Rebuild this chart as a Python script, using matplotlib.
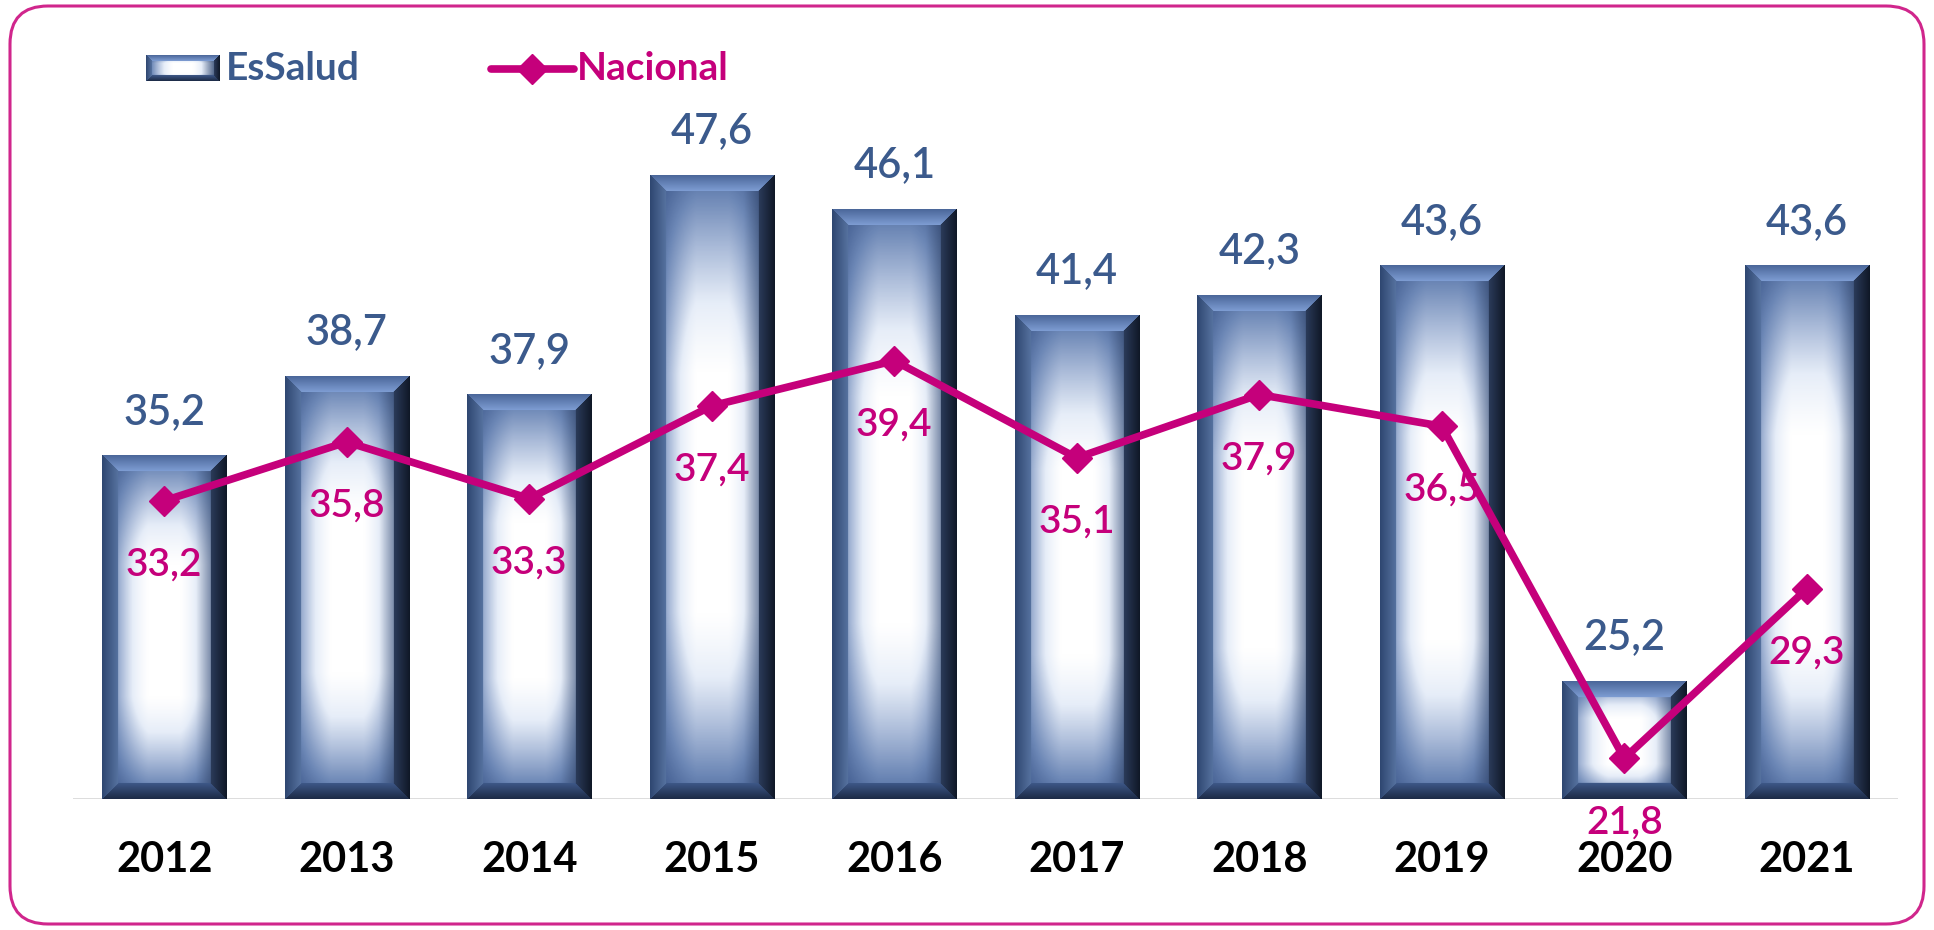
import numpy as np
import matplotlib.pyplot as plt
from matplotlib.colors import LinearSegmentedColormap, to_rgb
from matplotlib.patches import FancyBboxPatch

years = ['2012', '2013', '2014', '2015', '2016', '2017', '2018', '2019', '2020', '2021']
essalud = [35.2, 38.7, 37.9, 47.6, 46.1, 41.4, 42.3, 43.6, 25.2, 43.6]
nacional = [33.2, 35.8, 33.3, 37.4, 39.4, 35.1, 37.9, 36.5, 21.8, 29.3]

BLUE_TXT = '#3B5A8C'
PINK = '#C5007B'
W, H = 1934, 930

plt.rcParams['font.family'] = ['Lato', 'DejaVu Sans']

fill_cmap = LinearSegmentedColormap.from_list('fill', [
    (0.0, '#FFFFFF'), (0.25, '#E6EDF8'), (0.5, '#A9BAD8'),
    (0.75, '#6B86B5'), (0.9, '#4B6698'), (1.0, '#2C416C')])

# bevel colours (outer edge, inner edge): left, right, top, bottom
BEVEL = [('#2E4670', '#56729F'), ('#0F1726', '#2B3B5A'),
         ('#4A6699', '#7E9DD3'), ('#1C2A45', '#3E5888')]


def fmt(v):
    return f'{v:.1f}'.replace('.', ',')


def bevel_image(w_px, h_px, bevel=16):
    nx, ny = max(int(round(w_px)), 2), max(int(round(h_px)), 2)
    X, Y = np.meshgrid(np.arange(nx) + 0.5, np.arange(ny) + 0.5)
    u = X / nx
    v = 1 - Y / ny
    th = np.clip((np.abs(u - 0.5) * 2 - 0.25) / 0.75, 0, 1) ** 1.3
    vb = np.clip((0.3 - v) / 0.3, 0, 1) ** 1.2 * 0.88
    vt = np.clip((v - 0.68) / 0.32, 0, 1) ** 1.2 * 0.85
    tv = np.maximum(vb, vt)
    t = 1 - (1 - th) * (1 - tv)
    img = fill_cmap(t)[..., :3]
    # darker on the right side
    dark = 1 - 0.35 * np.clip((u - 0.75) / 0.25, 0, 1)
    img = img * dark[..., None]
    # bevel edges
    dist = np.stack([X, nx - X, Y, ny - Y])
    side = np.argmin(dist, axis=0)
    dmin = np.min(dist, axis=0)
    mask = dmin < bevel
    frac = np.clip(dmin / bevel, 0, 1)
    for k, (c_out, c_in) in enumerate(BEVEL):
        m = mask & (side == k)
        co, ci = np.array(to_rgb(c_out)), np.array(to_rgb(c_in))
        img[m] = co + (ci - co) * frac[m][:, None]
    return img


fig = plt.figure(figsize=(W / 100, H / 100), dpi=100)

# background canvas in pixel units for the frame and the legend
bg = fig.add_axes([0, 0, 1, 1], zorder=-1)
bg.axis('off')
bg.add_patch(FancyBboxPatch((10, 6), W - 20, H - 12,
                            boxstyle='round,pad=0,rounding_size=38',
                            fill=False, edgecolor='#D0268C', linewidth=2.2))

ax = fig.add_axes([73 / W, 131 / H, (1898 - 73) / W, 723 / H])
ax.set_facecolor('none')
x = np.arange(len(years))
bars = ax.bar(x, essalud, width=0.68, color='none', zorder=2)
ax.set_xlim(-0.5, len(years) - 0.5)
ax.set_ylim(20, 52)

for b, val in zip(bars, essalud):
    x0, x1 = b.get_x(), b.get_x() + b.get_width()
    p0 = ax.transData.transform((x0, 20))
    p1 = ax.transData.transform((x1, val))
    img = bevel_image(p1[0] - p0[0], p1[1] - p0[1])
    ax.imshow(img, extent=[x0, x1, 20, val], aspect='auto', zorder=2,
              interpolation='bilinear')
    ax.annotate(fmt(val), (b.get_x() + b.get_width() / 2, val),
                xytext=(0, 23), textcoords='offset points', ha='center',
                va='baseline', fontsize=30, fontweight='semibold', color=BLUE_TXT)

ax.set_xlim(-0.5, len(years) - 0.5)
ax.set_ylim(20, 52)

ax.plot(x, nacional, color=PINK, linewidth=5.5, marker='D', markersize=15,
        zorder=4, solid_joinstyle='round')
for xi, val in zip(x, nacional):
    ax.annotate(fmt(val), (xi, val), xytext=(0, -46), textcoords='offset points',
                ha='center', va='center', fontsize=28, fontweight='semibold',
                color=PINK, zorder=5)

ax.axhline(20, color='#D9D9D9', linewidth=2, zorder=1)
for s in ax.spines.values():
    s.set_visible(False)
ax.set_yticks([])
ax.set_xticks(x)
ax.set_xticklabels(years, fontsize=30, fontweight='bold', color='black')
ax.tick_params(axis='x', length=0, pad=30)

# legend
bg.imshow(bevel_image(74, 26, bevel=6), extent=[146, 220, 81, 55], aspect='auto',
          interpolation='bilinear')
bg.text(226, 69, 'EsSalud', fontsize=28, fontweight='bold', color=BLUE_TXT,
        va='center', ha='left')
bg.plot([491, 574], [69, 69], color=PINK, linewidth=5.5, solid_capstyle='round')
bg.plot([532], [69], marker='D', markersize=15, color=PINK)
bg.text(577, 69, 'Nacional', fontsize=28, fontweight='bold', color=PINK,
        va='center', ha='left')
bg.set_xlim(0, W)
bg.set_ylim(H, 0)

fig.savefig('out.png', dpi=100)
